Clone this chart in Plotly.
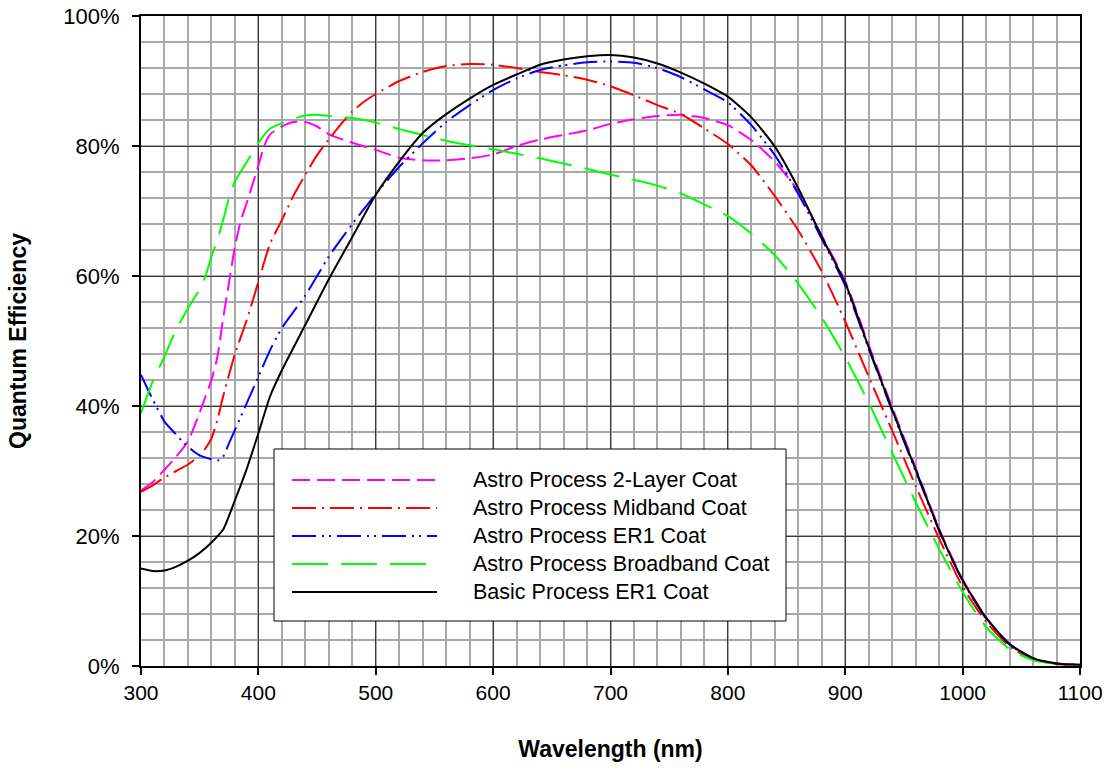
import plotly.graph_objects as go

# ---------------- data (wavelength nm, QE %) ----------------
wl_basic = [300, 310, 320, 330, 340, 350, 360, 370, 380, 390, 400, 410, 420, 440, 460, 480,
            500, 520, 540, 560, 580, 600, 620, 640, 660, 680, 700, 720, 740, 760, 780, 800,
            820, 840, 860, 880, 900, 920, 940, 960, 980, 1000, 1020, 1040, 1060, 1080, 1100]
qe_basic = [15.0, 14.6, 14.7, 15.3, 16.2, 17.4, 19.0, 21.0, 25.5, 30.3, 35.8, 41.5, 45.5, 52.5,
            59.5, 66.0, 72.5, 77.6, 82.0, 84.9, 87.3, 89.4, 91.0, 92.5, 93.3, 93.8, 94.0, 93.6,
            92.7, 91.3, 89.6, 87.6, 84.4, 79.9, 73.5, 66.0, 58.9, 49.0, 39.4, 30.2, 20.9, 13.2,
            7.4, 3.4, 1.2, 0.4, 0.2]

wl_er1 = [300, 310, 320, 330, 337, 345, 350, 360, 365, 370, 375, 380, 390, 400, 410, 420, 440,
          460, 480, 500, 520, 540, 560, 580, 600, 620, 640, 660, 680, 700, 720, 740, 760, 780,
          800, 820, 840, 860, 880, 900, 920, 940, 960, 980, 1000, 1020, 1040, 1060, 1080, 1100]
qe_er1 = [44.8, 41.0, 37.6, 35.6, 34.2, 33.0, 32.4, 31.8, 31.6, 32.2, 34.3, 36.3, 40.4, 44.5,
          48.6, 52.0, 57.0, 63.0, 68.0, 72.6, 76.8, 80.4, 83.7, 86.3, 88.6, 90.4, 91.7, 92.4,
          92.9, 93.0, 92.8, 92.0, 90.6, 88.7, 86.7, 83.2, 78.6, 72.6, 65.7, 58.5, 48.8, 39.2,
          30.0, 20.8, 13.1, 7.3, 3.3, 1.1, 0.4, 0.2]

wl_2layer = [300, 310, 320, 330, 340, 350, 355, 360, 365, 370, 375, 380, 385, 390, 395, 400,
             405, 410, 420, 430, 440, 450, 460, 480, 500, 520, 540, 560, 580, 600, 620, 640,
             660, 680, 700, 720, 740, 760, 780, 800, 820, 840, 860, 880, 900, 920, 940, 960,
             980, 1000, 1020, 1040, 1060, 1080, 1100]
qe_2layer = [27.0, 28.3, 30.2, 32.2, 34.6, 39.0, 41.5, 44.0, 47.5, 53.5, 59.0, 64.5, 68.5, 71.2,
             74.1, 77.0, 80.0, 81.8, 83.0, 83.7, 83.7, 83.0, 81.8, 80.5, 79.4, 78.2, 77.8, 77.8,
             78.1, 78.7, 80.0, 81.0, 81.7, 82.4, 83.4, 84.1, 84.6, 84.8, 84.3, 83.2, 80.9, 77.6,
             73.0, 66.2, 59.2, 49.4, 39.8, 30.5, 21.1, 13.3, 7.5, 3.4, 1.2, 0.4, 0.2]

wl_mid = [300, 310, 320, 330, 340, 350, 355, 360, 365, 370, 375, 380, 390, 400, 410, 420, 430,
          440, 450, 460, 470, 480, 490, 500, 520, 540, 560, 580, 600, 620, 640, 660, 680, 700,
          720, 740, 760, 780, 800, 820, 840, 860, 880, 900, 920, 940, 960, 980, 1000, 1020,
          1040, 1060, 1080, 1100]
qe_mid = [26.8, 27.8, 29.0, 30.0, 31.0, 32.4, 33.5, 35.0, 37.8, 41.5, 44.8, 48.0, 53.2, 59.1,
          65.0, 68.6, 72.4, 75.6, 78.6, 81.0, 83.3, 85.3, 86.8, 88.0, 90.0, 91.4, 92.3, 92.6,
          92.5, 92.0, 91.4, 90.9, 90.2, 89.2, 87.8, 86.3, 84.9, 82.7, 80.3, 77.0, 72.3, 67.0,
          60.7, 53.0, 44.5, 36.2, 27.7, 19.6, 12.2, 6.8, 3.0, 1.0, 0.3, 0.1]

wl_broad = [300, 310, 320, 330, 340, 350, 355, 360, 365, 370, 375, 380, 390, 400, 410, 420,
            430, 440, 450, 460, 480, 500, 520, 540, 560, 580, 600, 620, 640, 660, 680, 700,
            720, 740, 760, 780, 800, 820, 840, 860, 880, 900, 920, 940, 960, 980, 1000, 1020,
            1040, 1060, 1080, 1100]
qe_broad = [38.9, 43.8, 47.6, 51.8, 55.0, 58.0, 60.0, 63.0, 65.5, 68.6, 72.0, 74.5, 77.5, 80.5,
            82.7, 83.5, 84.2, 84.7, 84.8, 84.6, 84.3, 83.6, 82.6, 81.7, 80.8, 80.1, 79.5, 78.8,
            78.1, 77.3, 76.5, 75.6, 74.8, 73.9, 72.7, 71.0, 69.2, 66.5, 63.2, 58.8, 53.6, 47.5,
            40.5, 32.8, 25.2, 18.0, 11.4, 6.0, 2.6, 0.9, 0.3, 0.1]

series_names = ["Astro Process 2-Layer Coat", "Astro Process Midband Coat",
                "Astro Process ER1 Coat", "Astro Process Broadband Coat",
                "Basic Process ER1 Coat"]
series_x = [wl_2layer, wl_mid, wl_er1, wl_broad, wl_basic]
series_y = [qe_2layer, qe_mid, qe_er1, qe_broad, qe_basic]
series_colors = ["#ff00ff", "#ff0000", "#0000ff", "#00ff00", "#000000"]
series_dash = ["18px,7px", "24px,6px,2px,6px", "24px,6px,2px,5px,2px,6px", "36px,13px", "solid"]

x_ticks = [300, 400, 500, 600, 700, 800, 900, 1000, 1100]
y_ticks = [0, 20, 40, 60, 80, 100]

FONT = "Liberation Sans, Arial, sans-serif"

fig = go.Figure()
for name, xs, ys, col, dsh in zip(series_names, series_x, series_y, series_colors, series_dash):
    fig.add_trace(go.Scatter(x=xs, y=ys, name=name, mode="lines",
                             line=dict(color=col, width=2, dash=dsh, shape="spline", smoothing=0.6),
                             showlegend=False))

W, H = 1117, 771
L, T, PW, PH = 141, 16, 939.0, 650.0

def px(xp):
    return (xp - L) / PW
def py(yp):
    return (T + PH - yp) / PH

shapes = [dict(type="rect", xref="paper", yref="paper", x0=px(274), x1=px(786), y0=py(621), y1=py(449),
               fillcolor="white", line=dict(color="black", width=1), layer="above")]
annotations = []
row_y = [480, 508, 536, 564, 592]
for i, name in enumerate(series_names):
    shapes.append(dict(type="line", xref="paper", yref="paper", x0=px(292), x1=px(437),
                       y0=py(row_y[i]), y1=py(row_y[i]), layer="above",
                       line=dict(color=series_colors[i], width=2, dash=series_dash[i])))
    annotations.append(dict(xref="paper", yref="paper", x=px(471), y=py(row_y[i]), text=name,
                            showarrow=False, xanchor="left", yanchor="middle",
                            font=dict(family=FONT, size=21.5, color="black")))

fig.update_layout(
    width=W, height=H,
    margin=dict(l=L, r=W - L - PW, t=T, b=H - T - PH, autoexpand=False),
    paper_bgcolor="white", plot_bgcolor="white",
    font=dict(family=FONT, size=22, color="black"),
    shapes=shapes, annotations=annotations,
    showlegend=False,
    xaxis=dict(range=[300, 1100], tickvals=x_ticks, ticktext=[str(v) for v in x_ticks],
               ticks="outside", ticklen=7, tickwidth=1.5, tickcolor="black",
               ticklabeloverflow="allow",
               showline=True, linecolor="black", linewidth=2, mirror=True,
               showgrid=True, gridcolor="#3a3a3a", gridwidth=1,
               minor=dict(dtick=20, showgrid=True, gridcolor="#a8a8a8", gridwidth=1.5, tick0=300),
               zeroline=False, tickfont=dict(size=21),
               title=dict(text="<b>Wavelength (nm)</b>", font=dict(size=23), standoff=38)),
    yaxis=dict(range=[0, 100], tickvals=y_ticks, ticktext=[f"{v}%" for v in y_ticks],
               ticks="outside", ticklen=7, tickwidth=1.5, tickcolor="black",
               ticklabelstandoff=8, ticklabeloverflow="allow",
               showline=True, linecolor="black", linewidth=2, mirror=True,
               showgrid=True, gridcolor="#3a3a3a", gridwidth=1,
               minor=dict(dtick=4, showgrid=True, gridcolor="#a8a8a8", gridwidth=1.5, tick0=0),
               zeroline=False, tickfont=dict(size=22),
               title=dict(text="<b>Quantum Efficiency</b>", font=dict(size=23), standoff=30)),
)

fig.write_html("out.html", config={"displayModeBar": False},
               post_script="document.body.style.margin='0px';")
